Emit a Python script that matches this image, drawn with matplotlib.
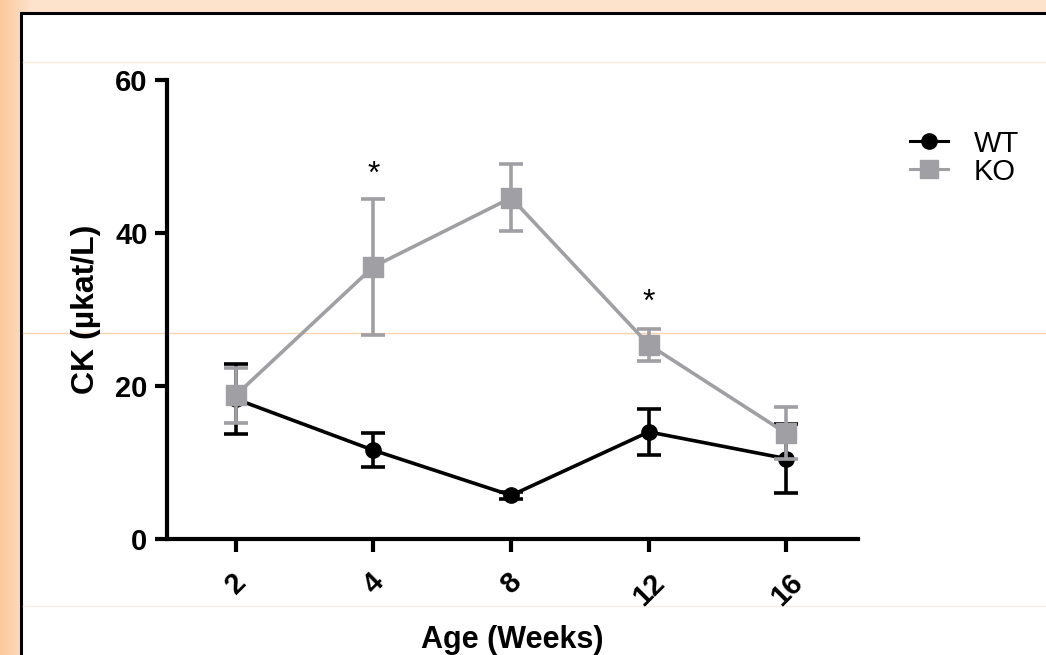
import numpy as np
import matplotlib.pyplot as plt
from matplotlib.patches import Rectangle
from matplotlib.lines import Line2D
from matplotlib.colors import LinearSegmentedColormap

plt.rcParams['font.family'] = ['Liberation Sans', 'DejaVu Sans']

# data
weeks = ['2', '4', '8', '12', '16']
wt_mean = [18.3, 11.6, 5.7, 14.0, 10.5]
wt_err = [4.6, 2.2, 0.5, 3.0, 4.5]
ko_mean = [18.8, 35.6, 44.6, 25.4, 13.8]
ko_err = [3.6, 8.9, 4.4, 2.1, 3.4]
star_pos = [1, 3]
star_y = [47.6, 30.8]

ko_color = '#a0a0a4'

fig = plt.figure(figsize=(10.46, 6.55), dpi=100)

# orange background with a soft gradient
bg = fig.add_axes([0, 0, 1, 1])
grad = np.linspace(0, 1, 256).reshape(1, -1)
cmap = LinearSegmentedColormap.from_list('o', ['#fcc89c', '#fde2cc'])
bg.imshow(grad, cmap=cmap, aspect='auto', extent=[0, 0.03, 0, 1])
bg.add_patch(Rectangle((0.03, 0), 0.97, 1, color='#fde2cc'))
bg.add_patch(Rectangle((21 / 1046, -0.1), 1.1, 1 - 13 / 655 + 0.1,
                       facecolor='white', edgecolor='black', lw=2.2))
# faint scanner lines
bg.plot([23 / 1046, 1], [1 - 62 / 655] * 2, color='#fde8d6', lw=1)
bg.plot([23 / 1046, 1], [1 - 333 / 655] * 2, color='#fbd3ae', lw=1)
bg.plot([23 / 1046, 1], [1 - 606 / 655] * 2, color='#f7eee8', lw=1)
bg.set_xlim(0, 1)
bg.set_ylim(0, 1)
bg.axis('off')

ax = fig.add_axes([167 / 1046, 1 - 539 / 655, (858 - 167) / 1046, (539 - 80) / 655])
ax.patch.set_alpha(0)
x = np.arange(len(weeks))

ax.errorbar(x, wt_mean, yerr=wt_err, color='black', marker='o', ms=11,
            lw=2.6, elinewidth=2.6, capsize=8.5, capthick=2.6, label='WT', zorder=3)
ax.errorbar(x, ko_mean, yerr=ko_err, color=ko_color, marker='s', ms=14,
            lw=2.6, elinewidth=2.6, capsize=8.5, capthick=2.6, label='KO', zorder=4)

for p, yv in zip(star_pos, star_y):
    ax.text(p, yv, '*', ha='center', va='center', fontsize=23)

ax.set_xlim(-0.5, 4.52)
ax.set_ylim(0, 60)
ax.set_yticks([0, 20, 40, 60])
ax.set_xticks(x)
ax.set_xticklabels(weeks, rotation=45, ha='center', fontweight='bold', fontsize=21)
for lab in ax.get_yticklabels():
    lab.set_fontweight('bold')
    lab.set_fontsize(21)
ax.tick_params(width=3, length=9, color='black', direction='out', pad=5)
ax.tick_params(axis='x', pad=12)
for s in ['top', 'right']:
    ax.spines[s].set_visible(False)
for s in ['left', 'bottom']:
    ax.spines[s].set_linewidth(3)

ax.set_ylabel('CK (µkat/L)', fontsize=23, fontweight='bold', labelpad=10)
ax.set_xlabel('Age (Weeks)', fontsize=22, fontweight='bold', labelpad=10)

handles = [Line2D([], [], color='black', marker='o', ms=11, lw=2.2),
           Line2D([], [], color=ko_color, marker='s', ms=13, lw=2.2)]
fig.legend(handles, ['WT', 'KO'], loc='upper left', bbox_to_anchor=(898 / 1046, 1 - 118 / 655),
           frameon=False, fontsize=21, handlelength=1.3, labelspacing=0.0,
           handletextpad=0.9, borderaxespad=0)

fig.savefig('out.png', dpi=100)
